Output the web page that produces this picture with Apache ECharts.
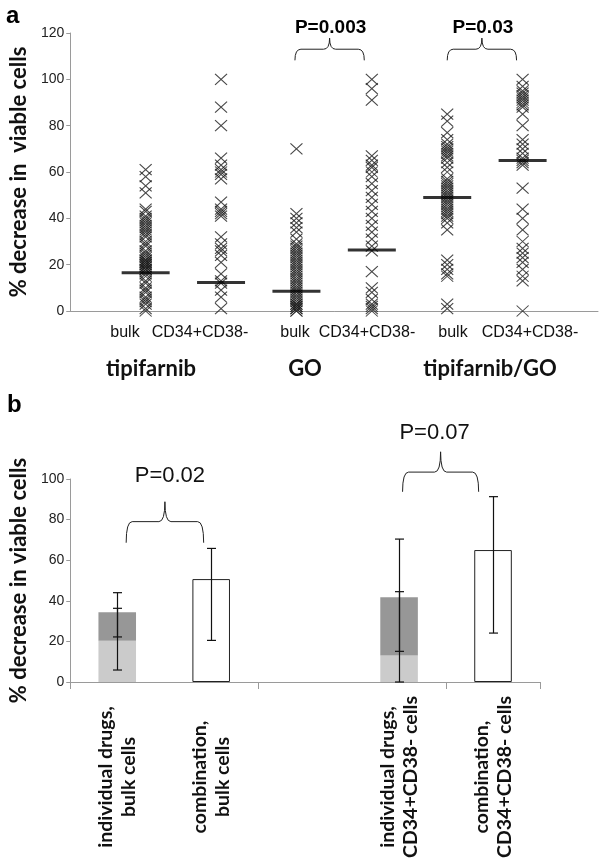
<!DOCTYPE html>
<html><head><meta charset="utf-8">
<script src="https://cdn.jsdelivr.net/npm/echarts@6/dist/echarts.min.js"></script>
<style>html,body{margin:0;padding:0;background:#fff}#c{width:600px;height:864px}</style>
</head><body><div id="c"></div>
<script>
// ---------- Panel a data ----------
const colPositions = [1, 2, 3, 4, 5, 6];
const subLabels = ['bulk', 'CD34+CD38-', 'bulk', 'CD34+CD38-', 'bulk', 'CD34+CD38-'];
const groupLabels = ['tipifarnib', 'GO', 'tipifarnib/GO'];
const tipBulk = [61, 58, 54, 51, 44, 43, 41, 40, 39, 38, 37, 36, 35, 34, 33, 32, 30, 29, 28, 26, 25, 24, 23, 22, 22, 21, 21, 20, 20, 19, 19, 18, 18, 17, 16, 15, 13, 12, 10, 9, 8, 6, 5, 4, 3, 1, 0];
const tipCD34 = [100, 88, 80, 66, 63, 61, 60, 59, 57, 47, 44, 43, 42, 41, 32, 29, 27, 26, 24, 21, 16, 13, 12, 9, 6, 1];
const goBulk = [70, 42, 40, 38, 36, 34, 31, 29, 28, 27, 26, 25, 24, 23, 22, 21, 20, 19, 18, 17, 16, 15, 14, 13, 12, 11, 10, 9, 8, 7, 6, 5, 4, 3, 3, 2, 2, 1, 1, 0, 0];
const goCD34 = [100, 96, 91, 67, 65, 63, 62, 60, 58, 55, 52, 49, 46, 43, 40, 37, 34, 31, 28, 26, 17, 10, 8, 5, 3, 2, 1, 0];
const tgBulk = [85, 82, 77, 74, 72, 71, 70, 69, 68, 67, 66, 64, 62, 60, 57, 56, 55, 54, 53, 52, 51, 50, 49, 48, 47, 46, 45, 44, 43, 42, 41, 40, 38, 35, 22, 20, 18, 16, 15, 3, 1];
const tgCD34 = [100, 97, 95, 94, 93, 92, 91, 90, 89, 88, 85, 80, 74, 72, 70, 68, 66, 65, 64, 63, 53, 44, 40, 35, 30, 27, 25, 23, 21, 18, 15, 13, 0];
const medians = [16.5, 12.3, 8.5, 26.3, 49, 65];
// brace annotations panel a: [xLeft, xRight, text]
const bracesA = [[2.98, 3.9, 'P=0.003'], [5.0, 5.92, 'P=0.03']];

// ---------- Panel b data ----------
const categoriesB = ['individual drugs,\nbulk cells', 'combination,\nbulk cells', '', 'individual drugs,\nCD34+CD38- cells', 'combination,\nCD34+CD38- cells'];
const lightPart = [20.3, null, null, 13.1, null];
const darkPart = [14.0, null, null, 28.6, null];
const combination = [null, 50.7, null, null, 65.0];
// error bars: [category index, low, high]
const errorBars = [[0, 5.9, 36.3], [0, 22.2, 44.0], [1, 20.5, 65.8], [3, 0, 44.5], [3, 15.1, 70.4], [4, 24.1, 91.3]];
const bracesB = [[0, 1, 'P=0.02'], [3, 4, 'P=0.07']];

const columns = [tipBulk, tipCD34, goBulk, goCD34, tgBulk, tgCD34];
const scatterData = [];
columns.forEach((arr, i) => arr.forEach(v => scatterData.push([colPositions[i], v])));
const medianData = medians.map((m, i) => [colPositions[i], m]);

function bracePath(xL, xR, xM, yH, yEnd, yTip) {
  const r = 6;
  return 'M' + xL + ' ' + yEnd + ' Q' + xL + ' ' + yH + ' ' + (xL + r) + ' ' + yH +
    ' L' + (xM - r) + ' ' + yH + ' Q' + xM + ' ' + yH + ' ' + xM + ' ' + yTip +
    ' Q' + xM + ' ' + yH + ' ' + (xM + r) + ' ' + yH +
    ' L' + (xR - r) + ' ' + yH + ' Q' + xR + ' ' + yH + ' ' + xR + ' ' + yEnd;
}

const chart = echarts.init(document.getElementById('c'), null, {renderer: 'canvas'});
const axisGrey = '#9a9a9a';
const option = {
  animation: false,
  backgroundColor: '#fff',
  grid: [
    {left: 67, top: 33, width: 531, height: 278},
    {left: 67, top: 479, width: 473, height: 203}
  ],
  xAxis: [
    {gridIndex: 0, type: 'value', min: 0, max: 7, interval: 1,
     axisLine: {show: true, onZero: false, lineStyle: {color: axisGrey}},
     axisTick: {show: false}, axisLabel: {show: false}, splitLine: {show: false}},
    {gridIndex: 1, type: 'category', data: categoriesB, boundaryGap: true,
     axisLine: {show: true, lineStyle: {color: axisGrey}},
     axisTick: {show: true, length: 7, lineStyle: {color: axisGrey}},
     axisLabel: {show: false}}
  ],
  yAxis: [
    {gridIndex: 0, type: 'value', min: 0, max: 120, interval: 20,
     axisLine: {show: true, lineStyle: {color: axisGrey}},
     axisTick: {show: true, inside: false, length: 4, lineStyle: {color: axisGrey}},
     axisLabel: {fontFamily: 'Liberation Sans', fontSize: 14, color: '#222', margin: 6},
     splitLine: {show: false},
     name: '% decrease in  viable cells', nameLocation: 'middle', nameGap: 40,
     nameTextStyle: {fontFamily: 'Lato', fontWeight: 'bold', fontSize: 22, color: '#111'}},
    {gridIndex: 1, type: 'value', min: 0, max: 100, interval: 20,
     axisLine: {show: true, lineStyle: {color: axisGrey}},
     axisTick: {show: true, length: 4, lineStyle: {color: axisGrey}},
     axisLabel: {fontFamily: 'Liberation Sans', fontSize: 14, color: '#222', margin: 6},
     splitLine: {show: false},
     name: '% decrease in viable cells', nameLocation: 'middle', nameGap: 40,
     nameTextStyle: {fontFamily: 'Lato', fontWeight: 'bold', fontSize: 22, color: '#111'}}
  ],
  series: [
    {type: 'scatter', xAxisIndex: 0, yAxisIndex: 0, data: scatterData,
     symbol: 'path://M0,0L10,10M10,0L0,10', symbolSize: [12, 11],
     itemStyle: {color: 'rgba(0,0,0,0)', borderColor: '#1a1a1a', borderWidth: 1.1}},
    {type: 'scatter', xAxisIndex: 0, yAxisIndex: 0, data: medianData, z: 5,
     symbol: 'rect', symbolSize: [48, 3], itemStyle: {color: '#000'}},
    {type: 'custom', xAxisIndex: 0, yAxisIndex: 0, z: 6, clip: false,
     data: bracesA.map(b => [b[0], b[1]]),
     renderItem: function (params, api) {
       const b = bracesA[params.dataIndex];
       const xL = api.coord([api.value(0), 113])[0];
       const xR = api.coord([api.value(1), 113])[0];
       const xM = (xL + xR) / 2;
       const yH = api.coord([0, 113])[1];
       const yEnd = api.coord([0, 108.2])[1];
       const yTip = api.coord([0, 117.8])[1];
       const yT = api.coord([0, 122.1])[1];
       return {type: 'group', children: [
         {type: 'path', shape: {pathData: bracePath(xL, xR, xM, yH, yEnd, yTip)},
          style: {fill: 'none', stroke: '#222', lineWidth: 1}},
         {type: 'text', x: xM + 1, y: yT, style: {text: b[2], align: 'center', verticalAlign: 'middle',
          font: 'bold 19px "Liberation Sans"', fill: '#000'}}
       ]};
     }},
    {type: 'bar', xAxisIndex: 1, yAxisIndex: 1, stack: 's', data: lightPart, barWidth: '40%',
     itemStyle: {color: '#cbcbcb'}},
    {type: 'bar', xAxisIndex: 1, yAxisIndex: 1, stack: 's', data: darkPart, barWidth: '40%',
     itemStyle: {color: '#979797'}},
    {type: 'bar', xAxisIndex: 1, yAxisIndex: 1, stack: 's', data: combination, barWidth: '40%',
     itemStyle: {color: '#fff', borderColor: '#222', borderWidth: 1}},
    {type: 'custom', xAxisIndex: 1, yAxisIndex: 1, z: 10, data: errorBars,
     renderItem: function (params, api) {
       const lo = api.coord([api.value(0), api.value(1)]);
       const hi = api.coord([api.value(0), api.value(2)]);
       const x = Math.round(lo[0]) + 0.5;
       const cap = 4.5;
       const st = {stroke: '#111', lineWidth: 1.2};
       return {type: 'group', children: [
         {type: 'line', shape: {x1: x, y1: lo[1], x2: x, y2: hi[1]}, style: st},
         {type: 'line', shape: {x1: x - cap, y1: lo[1], x2: x + cap, y2: lo[1]}, style: st},
         {type: 'line', shape: {x1: x - cap, y1: hi[1], x2: x + cap, y2: hi[1]}, style: st}
       ]};
     }},
    {type: 'custom', xAxisIndex: 1, yAxisIndex: 1, z: 10, clip: false,
     data: bracesB.map(b => [b[0], b[1]]),
     renderItem: function (params, api) {
       const b = bracesB[params.dataIndex];
       const band = api.size([1, 0])[0];
       const first = params.dataIndex === 0;
       const xL = api.coord([api.value(0), 0])[0] + (first ? 0.095 : 0.037) * band;
       const xR = api.coord([api.value(1), 0])[0] - (first ? 0.08 : 0.153) * band;
       const xM = (xL + xR) / 2;
       const yH = api.coord([0, first ? 79 : 103.4])[1];
       const yEnd = api.coord([0, first ? 68.6 : 93.7])[1];
       const yTip = api.coord([0, first ? 88.8 : 113.4])[1];
       const yT = api.coord([0, first ? 101.5 : 122.6])[1];
       return {type: 'group', children: [
         {type: 'path', shape: {pathData: bracePath(xL, xR, xM, yH, yEnd, yTip)},
          style: {fill: 'none', stroke: '#222', lineWidth: 1}},
         {type: 'text', x: xM + (first ? 5 : -6), y: yT, style: {text: b[2], align: 'center', verticalAlign: 'middle',
          font: '22px "Liberation Sans"', fill: '#111'}}
       ]};
     }},
    // rotated, centred category labels for panel b
    {type: 'custom', xAxisIndex: 1, yAxisIndex: 1, z: 10, clip: false,
     data: categoriesB.map((c, i) => [i, 0]),
     renderItem: function (params, api) {
       const p = api.coord([api.value(0), 0]);
       return {type: 'text', x: p[0], y: p[1] + 95, rotation: Math.PI / 2,
         style: {text: categoriesB[params.dataIndex], align: 'center', verticalAlign: 'middle',
           font: 'bold 19.5px Lato', lineHeight: 23, fill: '#111'}};
     }}
  ],
  graphic: [
    {type: 'text', left: 6, top: 4, style: {text: 'a', font: 'bold 24px "Liberation Sans"', fill: '#000'}},
    {type: 'text', left: 7, top: 393, style: {text: 'b', font: 'bold 24px "Liberation Sans"', fill: '#000'}}
  ].concat(subLabels.map((t, i) => ({type: 'text', x: [125, 200, 295, 367, 453, 530][i], y: 333,
      style: {text: t, align: 'center', verticalAlign: 'middle', font: '16px "Liberation Sans"', fill: '#111'}})))
   .concat(groupLabels.map((t, i) => ({type: 'text', x: [151, 305, 490][i], y: 369,
      style: {text: t, align: 'center', verticalAlign: 'middle', font: 'bold 22px Lato', fill: '#111'}})))
};
chart.setOption(option);
</script></body></html>
